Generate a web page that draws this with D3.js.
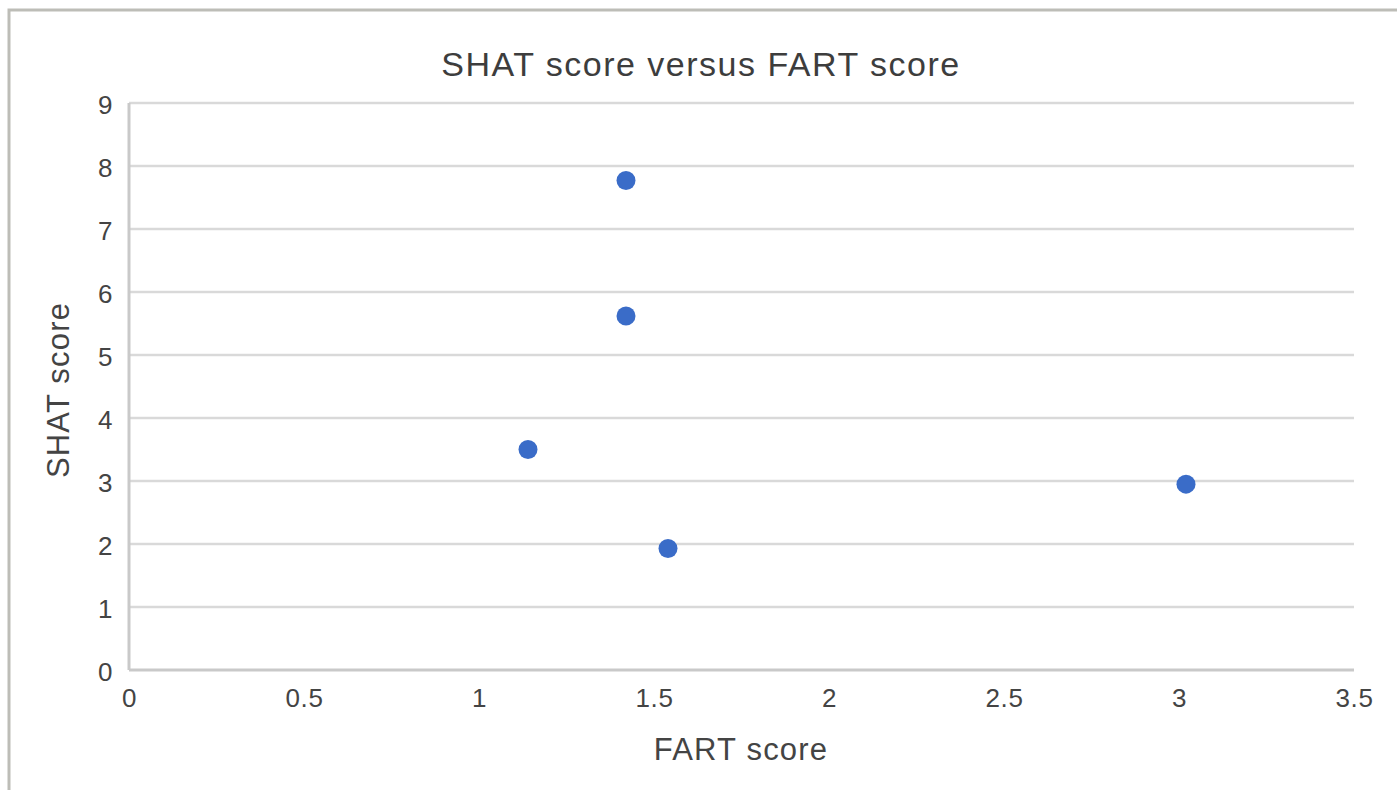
<!DOCTYPE html>
<html>
<head>
<meta charset="utf-8">
<script src="https://cdn.jsdelivr.net/npm/d3@7"></script>
<style>
  body { margin: 0; background: #fff; }
  svg { display: block; font-family: "Liberation Sans", Arial, sans-serif; }
</style>
</head>
<body>
<svg width="1397" height="790"></svg>
<script>
// data
var fartScores = [1.42, 1.42, 1.14, 1.54, 3.02];
var shatScores = [7.77, 5.62, 3.50, 1.93, 2.95];
var xTicks = [0, 0.5, 1, 1.5, 2, 2.5, 3, 3.5];
var yTicks = [0, 1, 2, 3, 4, 5, 6, 7, 8, 9];

var svg = d3.select("svg");

var plotLeft = 129, plotRight = 1354, plotTop = 103, plotBottom = 670;

var x = d3.scaleLinear().domain([0, 3.5]).range([plotLeft, plotRight]);
var y = d3.scaleLinear().domain([0, 9]).range([plotBottom, plotTop]);

// frame, only top and left edge show
svg.append("path")
    .attr("d", "M9,790 V10 H1397")
    .attr("fill", "none")
    .attr("stroke", "#bdbdb7")
    .attr("stroke-width", 3);

// horizontal grid
svg.append("g")
    .selectAll("line")
    .data(yTicks.filter(function (d) { return d > 0; }))
    .enter().append("line")
    .attr("x1", plotLeft).attr("x2", plotRight)
    .attr("y1", function (d) { return y(d); })
    .attr("y2", function (d) { return y(d); })
    .attr("stroke", "#d9d9d9")
    .attr("stroke-width", 2.5);

// axes
var xAxis = svg.append("g")
    .attr("transform", "translate(0," + plotBottom + ")")
    .call(d3.axisBottom(x).tickValues(xTicks).tickSize(0).tickPadding(18)
        .tickFormat(d3.format("")));
var yAxis = svg.append("g")
    .attr("transform", "translate(" + plotLeft + ",0)")
    .call(d3.axisLeft(y).tickValues(yTicks).tickSize(0).tickPadding(16));

[xAxis, yAxis].forEach(function (a) {
    a.select(".domain").attr("stroke", "#c9c9c9").attr("stroke-width", 3);
    a.selectAll("text")
        .attr("font-size", 26)
        .attr("letter-spacing", 0.6)
        .attr("font-family", "Liberation Sans, Arial, sans-serif")
        .attr("fill", "#444");
});
yAxis.select(".domain").attr("d", "M0," + plotTop + "V" + plotBottom);
xAxis.select(".domain").attr("d", "M" + plotLeft + ",0H" + plotRight);
yAxis.selectAll("text").attr("dy", "0.4em");
xAxis.selectAll("text").attr("dy", "0.72em");

// points
svg.append("g")
    .selectAll("circle")
    .data(fartScores)
    .enter().append("circle")
    .attr("cx", function (d) { return x(d); })
    .attr("cy", function (d, i) { return y(shatScores[i]); })
    .attr("r", 9.5)
    .attr("fill", "#3a6cc8");

// titles
svg.append("text")
    .attr("x", 701).attr("y", 76)
    .attr("text-anchor", "middle")
    .attr("font-size", 34)
    .attr("letter-spacing", 1.5)
    .attr("fill", "#3d3d3d")
    .text("SHAT score versus FART score");

svg.append("text")
    .attr("x", 741).attr("y", 760)
    .attr("text-anchor", "middle")
    .attr("font-size", 31)
    .attr("letter-spacing", 1.2)
    .attr("fill", "#444")
    .text("FART score");

svg.append("text")
    .attr("transform", "translate(69,390) rotate(-90)")
    .attr("text-anchor", "middle")
    .attr("font-size", 31)
    .attr("letter-spacing", 1.2)
    .attr("fill", "#444")
    .text("SHAT score");
</script>
</body>
</html>
